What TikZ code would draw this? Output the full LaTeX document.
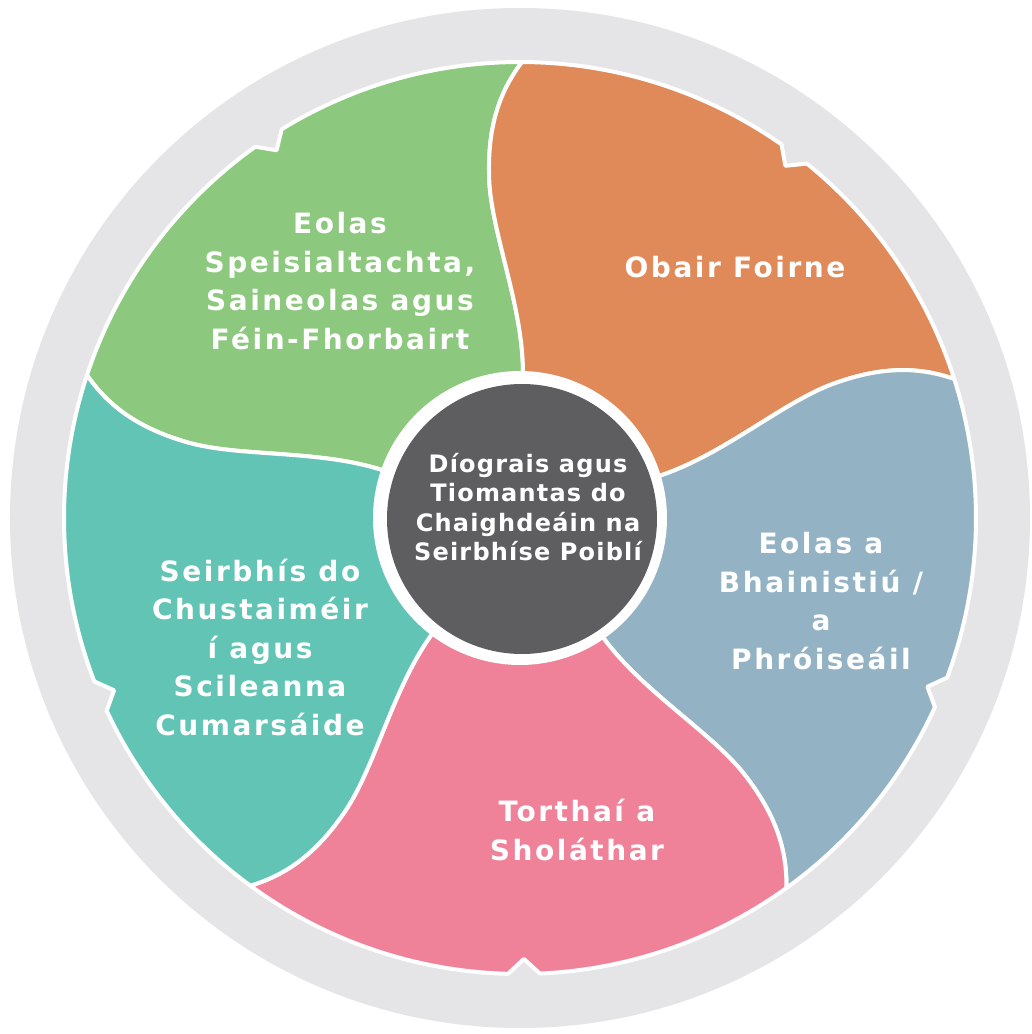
\documentclass[tikz,border=0pt]{standalone}
\usepackage{fontspec}
\setmainfont{DejaVu Sans}
\newfontfamily\wheelfont{DejaVu Sans}[LetterSpace=9]
\newfontfamily\hubfont{DejaVu Sans}[LetterSpace=5]

\definecolor{ringgrey}{RGB}{229,229,231}
\definecolor{leafgreen}{RGB}{140,200,125}
\definecolor{clay}{RGB}{224,138,90}
\definecolor{slate}{RGB}{147,179,197}
\definecolor{rose}{RGB}{239,130,153}
\definecolor{teal}{RGB}{98,196,180}
\definecolor{hubgrey}{RGB}{94,94,96}

\tikzset{
  petal/.style={fill=#1, draw=white, line width=4pt, line join=round},
  petaltext/.style={text=white, align=center,
    font=\wheelfont\bfseries\fontsize{28}{38.5}\selectfont},
  hubtext/.style={text=white, align=center,
    font=\hubfont\bfseries\fontsize{24}{29.5}\selectfont}
}

\begin{document}
\begin{tikzpicture}
    \useasboundingbox [fill=white] (-520pt,-516pt) rectangle (512pt,518pt);
    \fill [ringgrey] (0,0) circle [radius=510pt];

    % five petals, each between two wavy edges, with a notch in the rim
    \foreach \b/\n/\c in {90/123.5/leafgreen, 18/53/clay, -54/-22.5/slate, -126/-89.5/rose, -198/-157/teal} {
        \pgfmathsetmacro\e{\b+72}
        \draw [petal=\c] ({\b-1.19}:145pt)
            .. controls ({\b-0.8}:215pt) and ({\b+6.1}:291.7pt) .. ({\b+5.13}:346.4pt)
            .. controls ({\b+4.57}:401.3pt) and ({\b+2.12}:432.3pt) .. ({\b-0.25}:456pt)
            arc [start angle=\b-0.25, end angle=\n-2, radius=456pt]
            -- ({\n}:441pt) -- ({\n+2}:456pt)
            arc [start angle=\n+2, end angle=\e-0.25, radius=456pt]
            .. controls ({\e+2.12}:432.3pt) and ({\e+4.57}:401.3pt) .. ({\e+5.13}:346.4pt)
            .. controls ({\e+6.1}:291.7pt) and ({\e-0.8}:215pt) .. ({\e-1.19}:145pt)
            arc [start angle=\e-1.19, end angle=\b-1.19, radius=145pt] -- cycle;
    }

    \fill [white] (0,0) circle [radius=143pt];
    \node [circle, fill=hubgrey, minimum size=270pt, inner sep=0pt] (hub) at (2pt,-1pt) {};

    \node [hubtext] (hubtxt) at (8pt,11pt) {Díograis agus\\Tiomantas do\\Chaighdeáin na\\Seirbhíse Poiblí};
    \node [petaltext] (eolas) at (-180pt,237pt) {Eolas\\Speisialtachta,\\Saineolas agus\\Féin-Fhorbairt};
    \node [petaltext] (obair) at (215pt,251pt) {Obair Foirne};
    \node [petaltext] (bainistiu) at (301pt,-83pt) {Eolas a\\Bhainistiú /\\a\\Phróiseáil};
    \node [petaltext] (torthai) at (57pt,-312pt) {Torthaí a\\Sholáthar};
    \node [petaltext] (seirbhis) at (-260pt,-129pt) {Seirbhís do\\Chustaiméir\\í agus\\Scileanna\\Cumarsáide};
\end{tikzpicture}
\end{document}
